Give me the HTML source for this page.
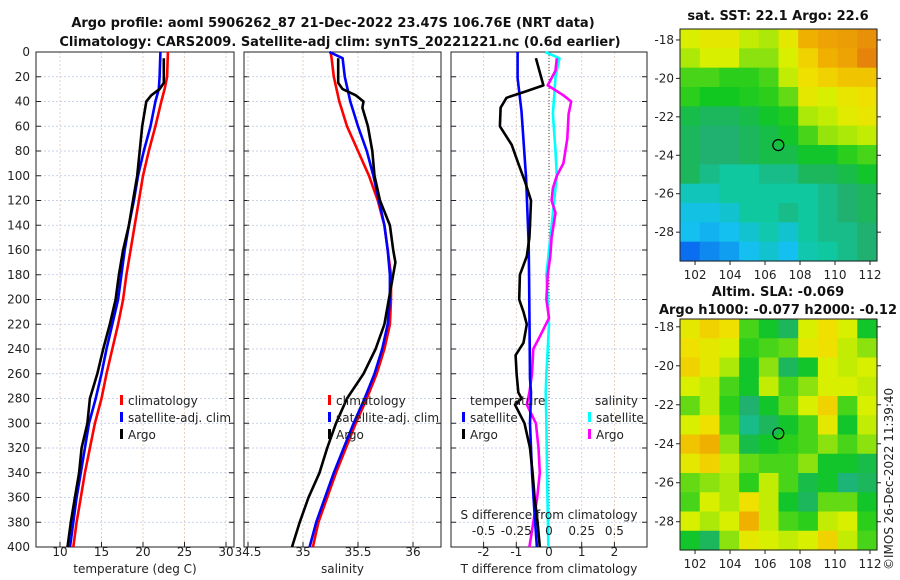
<!DOCTYPE html>
<html><head><meta charset="utf-8">
<style>
html,body{margin:0;padding:0;background:#fff;}
svg{display:block;font-family:"DejaVu Sans","Liberation Sans",sans-serif;}
.t{font-size:12px;fill:#222;}
.b{font-size:13px;font-weight:bold;fill:#111;}
</style></head>
<body>
<svg id="fig" width="900" height="580" viewBox="0 0 900 580">
<text class="b" x="333" y="27" text-anchor="middle">Argo profile: aoml 5906262_87 21-Dec-2022 23.47S 106.76E (NRT data)</text>
<text class="b" x="340" y="46" text-anchor="middle">Climatology: CARS2009. Satellite-adj clim: synTS_20221221.nc (0.6d earlier)</text>
<text class="b" x="778" y="20" text-anchor="middle">sat. SST: 22.1 Argo: 22.6</text>
<text class="b" x="778" y="296" text-anchor="middle">Altim. SLA: -0.069</text>
<text class="b" x="778" y="314" text-anchor="middle">Argo h1000: -0.077 h2000: -0.12</text>
<text class="t" transform="translate(893,570) rotate(-90)">©IMOS 26-Dec-2022 11:39:40</text>
<g id="g"></g>
</svg>
<script>
// ---------- data ----------
const depthTicks = [0,20,40,60,80,100,120,140,160,180,200,220,240,260,280,300,320,340,360,380,400];
const tempTicks = [10,15,20,25,30];
const salTicks = [34.5,35,35.5,36];
const tdiffTicks = [-2,-1,0,1,2];
const sdiffTicks = [-0.5,-0.25,0,0.25,0.5];
const sdiffTickLabels = ["-0.5","-0.25","0","0.25","0.5"];

const climDepth = [0,20,30,40,60,80,100,120,140,160,180,200,220,240,260,280,300,320,340,360,380,400];
const climTemp = [23.0,22.9,22.6,22.2,21.5,20.7,20.0,19.5,19.0,18.5,18.0,17.6,17.0,16.3,15.6,15.0,14.2,13.6,13.0,12.5,12.0,11.6];
const satTemp  = [22.1,22.0,21.9,21.5,20.9,20.1,19.4,18.9,18.3,17.8,17.4,17.0,16.3,15.6,15.0,14.3,13.5,13.0,12.5,12.0,11.6,11.2];
const argoDepth = [5,25,30,35,40,60,80,100,120,140,160,180,200,220,240,260,280,300,320,340,360,380,400];
const argoTemp = [22.5,22.5,22.0,21.0,20.4,19.9,19.6,19.3,18.8,18.3,17.6,17.1,16.7,16.0,15.2,14.5,13.6,13.3,12.6,12.3,11.8,11.3,10.9];

const salDepth = [0,5,20,40,60,80,100,120,140,160,180,200,220,240,260,280,300,320,340,360,380,400];
const climSal = [35.25,35.26,35.28,35.33,35.40,35.50,35.60,35.68,35.74,35.77,35.80,35.80,35.79,35.74,35.67,35.58,35.48,35.39,35.30,35.22,35.14,35.09];
const satSal  = [35.24,35.36,35.38,35.43,35.50,35.58,35.64,35.69,35.74,35.77,35.79,35.79,35.77,35.72,35.65,35.56,35.46,35.37,35.28,35.20,35.12,35.06];
const argoSalDepth = [5,25,30,35,40,45,60,80,100,120,140,160,170,180,200,220,240,260,280,300,320,340,360,380,400];
const argoSal = [35.32,35.32,35.36,35.48,35.55,35.54,35.59,35.63,35.65,35.70,35.79,35.82,35.84,35.82,35.78,35.74,35.66,35.55,35.40,35.30,35.22,35.15,35.05,34.97,34.90];

const satTdiffDepth = [0,21,48,75,102,129,156,183,210,237,264,275,300,340,370,400];
const satTdiff = [-0.96,-0.96,-0.84,-0.77,-0.70,-0.66,-0.62,-0.61,-0.60,-0.59,-0.58,-0.55,-0.58,-0.52,-0.45,-0.37];
const argoTdiffDepth = [5,27,32,37,45,60,75,90,105,120,140,150,165,180,200,210,220,235,245,260,275,280,285,300,320,340,360,380,400];
const argoTdiff = [-0.40,-0.17,-0.73,-1.30,-1.48,-1.50,-1.14,-0.94,-0.73,-0.55,-0.58,-0.60,-0.68,-0.89,-0.91,-0.78,-0.68,-0.78,-1.02,-0.99,-0.94,-0.84,-1.04,-0.75,-0.58,-0.50,-0.44,-0.35,-0.28];
const satSdiffDepth = [0,5,20,50,80,100,120,140,160,180,200,220,240,260,275,300,340,370,400];
const satSdiff = [-0.03,0.08,0.05,0.03,0.05,0.06,0.04,0.02,0.00,-0.02,-0.01,0.00,-0.01,-0.02,-0.025,-0.02,-0.015,-0.01,-0.005];
const argoSdiffDepth = [5,15,27,35,40,50,70,90,100,110,120,130,150,165,180,200,215,230,240,260,275,285,300,320,340,360,380,400];
const argoSdiff = [0.06,0.05,-0.01,0.11,0.17,0.15,0.14,0.11,0.06,0.03,0.02,0.05,0.02,0.01,-0.01,-0.02,0.00,-0.07,-0.12,-0.13,-0.15,-0.17,-0.10,-0.08,-0.07,-0.09,-0.12,-0.15];

const sstGrid = [
[.72,.75,.75,.70,.68,.75,.85,.87,.88,.90],
[.68,.72,.72,.65,.65,.72,.80,.85,.87,.92],
[.60,.60,.58,.58,.60,.70,.78,.80,.82,.82],
[.58,.56,.56,.57,.58,.62,.75,.72,.76,.78],
[.52,.50,.50,.52,.55,.57,.68,.70,.74,.76],
[.50,.48,.48,.50,.52,.55,.60,.66,.68,.70],
[.50,.48,.48,.50,.52,.52,.55,.55,.58,.60],
[.50,.45,.42,.42,.45,.45,.50,.50,.52,.55],
[.38,.38,.42,.42,.42,.42,.42,.45,.48,.50],
[.32,.32,.35,.42,.42,.45,.42,.45,.48,.50],
[.30,.28,.30,.35,.40,.35,.42,.45,.45,.48],
[.18,.22,.25,.30,.35,.30,.40,.42,.45,.48]];
const slaGrid = [
[.75,.80,.78,.60,.55,.50,.72,.78,.72,.55],
[.78,.75,.72,.58,.60,.62,.75,.78,.70,.65],
[.80,.75,.68,.55,.65,.50,.55,.72,.70,.72],
[.72,.70,.60,.55,.70,.60,.65,.72,.72,.70],
[.62,.70,.58,.48,.55,.62,.72,.80,.60,.72],
[.72,.78,.60,.45,.50,.55,.60,.75,.55,.70],
[.82,.85,.65,.52,.55,.58,.60,.65,.60,.65],
[.75,.80,.70,.62,.60,.60,.65,.55,.55,.52],
[.62,.65,.68,.58,.70,.60,.52,.55,.47,.50],
[.60,.72,.68,.78,.70,.55,.50,.62,.62,.55],
[.72,.68,.72,.85,.70,.60,.58,.70,.72,.58],
[.55,.50,.65,.75,.72,.70,.72,.80,.70,.60]];
const lonTicks = [102,104,106,108,110,112];
const latTicks = [-18,-20,-22,-24,-26,-28];
const argoLon = 106.76, argoLat = -23.47;

// ---------- helpers ----------
const NS="http://www.w3.org/2000/svg";
const G=document.getElementById('g');
function mk(tag,attrs){const e=document.createElementNS(NS,tag);for(const k in attrs)e.setAttribute(k,attrs[k]);G.appendChild(e);return e;}
function txt(x,y,s,anchor,cls){const e=mk('text',{x:x,y:y,'text-anchor':anchor||'middle','class':cls||'t'});e.textContent=s;return e;}

const PT=52,PB=547;
const yD=d=>PT+(d/400)*(PB-PT);
const panels=[
 {x0:36,x1:234,vmin:10-24/8.3,vmax:10+(234-60)/8.3,ticks:tempTicks,lab:"temperature (deg C)",name:"temperature-panel"},
 {x0:244,x1:441,vmin:34.5-4/110,vmax:34.5+(441-248)/110,ticks:salTicks,lab:"salinity",name:"salinity-panel"},
 {x0:451,x1:647,vmin:-98/32.7,vmax:98/32.7,ticks:tdiffTicks,lab:"T difference from climatology",name:"difference-panel"}
];
panels.forEach(p=>{p.sx=v=>p.x0+(v-p.vmin)/(p.vmax-p.vmin)*(p.x1-p.x0);});
const sxS=v=>549+v*130.8;

panels.forEach((p,pi)=>{
  depthTicks.forEach(d=>{
    const l=mk('line',{x1:p.x0,x2:p.x1,y1:yD(d),y2:yD(d),stroke:'#b8c4e8','stroke-width':0.8,'stroke-dasharray':'2,2'});
    
    
    const t1=mk('line',{x1:p.x0,x2:p.x0+5,y1:yD(d),y2:yD(d),stroke:'#222'});
    
    
    const t2=mk('line',{x1:p.x1-5,x2:p.x1,y1:yD(d),y2:yD(d),stroke:'#222'});
    
    
  });
  p.ticks.forEach((v,i)=>{
    const x=p.sx(v);
    const l=mk('line',{x1:x,x2:x,y1:PT,y2:PB,stroke:'#e0c8b8','stroke-width':0.8,'stroke-dasharray':'2,2'});
    
    
    const tk=mk('line',{x1:x,x2:x,y1:PB-5,y2:PB,stroke:'#222'});
    
    
    const tl=txt(x,PB+9,String(v));
    
    
  });
  const al=txt((p.x0+p.x1)/2,573,p.lab);
  
  
  const r=mk('rect',{x:p.x0,y:PT,width:p.x1-p.x0,height:PB-PT,fill:'none',stroke:'#222','stroke-width':1});
  
  
});
depthTicks.forEach(d=>{
  const t=txt(30,yD(d)+4,String(d),'end');
  
  
});
// zero line diff panel
const z=mk('line',{x1:549,x2:549,y1:PT,y2:PB,stroke:'#444','stroke-dasharray':'1,2'});



function series(xs,ds,sx,color,name){
  const pts=xs.map((v,i)=>sx(v).toFixed(1)+','+yD(ds[i]).toFixed(1)).join(' ');
  const e=mk('polyline',{points:pts,fill:'none',stroke:color,'stroke-width':2.6,'stroke-linejoin':'round'});
  
  
}
const P=panels;
series(climTemp,climDepth,P[0].sx,'#ff0000','temp-climatology-line');
series(satTemp,climDepth,P[0].sx,'#0000ff','temp-satellite-line');
series(argoTemp,argoDepth,P[0].sx,'#000','temp-argo-line');
series(climSal,salDepth,P[1].sx,'#ff0000','sal-climatology-line');
series(satSal,salDepth,P[1].sx,'#0000ff','sal-satellite-line');
series(argoSal,argoSalDepth,P[1].sx,'#000','sal-argo-line');
series(satSdiff,satSdiffDepth,sxS,'#00ffff','sdiff-satellite-line');
series(argoSdiff,argoSdiffDepth,sxS,'#ff00ff','sdiff-argo-line');
series(satTdiff,satTdiffDepth,P[2].sx,'#0000ff','tdiff-satellite-line');
series(argoTdiff,argoTdiffDepth,P[2].sx,'#000','tdiff-argo-line');

// S diff labels inside panel
const sdt=txt(549,519,'S difference from climatology');


sdiffTicks.forEach((v,i)=>{
  const t=txt(sxS(v),535,sdiffTickLabels[i]);
  
  
});

// legends
function legend(x,y,color,label){
  const b=mk('rect',{x:x,y:y-10,width:3,height:10,fill:color});
  
  
  const t=txt(x+8,y,label,'start');
  
  
}
legend(120,405,'#ff0000','climatology');legend(120,422,'#0000ff','satellite-adj. clim');legend(120,439,'#000','Argo');
legend(328,405,'#ff0000','climatology');legend(328,422,'#0000ff','satellite-adj. clim');legend(328,439,'#000','Argo');
const lt1=txt(470,405,'temperature','start');


const lt2=txt(595,405,'salinity','start');


legend(462,422,'#0000ff','satellite');legend(462,439,'#000','Argo');
legend(588,422,'#00ffff','satellite');legend(588,439,'#ff00ff','Argo');

// colormap
const stops=[[0,[0,24,168]],[.18,[10,110,240]],[.3,[20,192,240]],[.42,[16,200,160]],[.48,[32,176,112]],[.56,[16,200,32]],[.64,[128,224,16]],[.72,[216,240,0]],[.78,[240,224,0]],[.85,[240,176,0]],[.95,[224,112,16]],[1,[200,80,10]]];
function cmap(v){for(let i=1;i<stops.length;i++){if(v<=stops[i][0]){const a=stops[i-1],b=stops[i],t=(v-a[0])/(b[0]-a[0]);return 'rgb('+a[1].map((c,k)=>Math.round(c+(b[1][k]-c)*t)).join(',')+')';}}return 'rgb(200,80,10)';}

function map(grid,mx0,mx1,my0,my1,lon0,lon1,lat0,lat1,name){
  const sx=l=>mx0+(l-lon0)/(lon1-lon0)*(mx1-mx0);
  const sy=l=>my0+(lat0-l)/(lat0-lat1)*(my1-my0);
  const nr=grid.length,nc=grid[0].length,cw=(mx1-mx0)/nc,ch=(my1-my0)/nr;
  grid.forEach((row,r)=>row.forEach((v,c)=>{
    const e=mk('rect',{x:(mx0+c*cw).toFixed(2),y:(my0+r*ch).toFixed(2),width:(cw+0.6).toFixed(2),height:(ch+0.6).toFixed(2),fill:cmap(v)});
    
    
  }));
  const fr=mk('rect',{x:mx0,y:my0,width:mx1-mx0,height:my1-my0,fill:'none',stroke:'#222'});
  
  
  lonTicks.forEach(l=>{
    const tk=mk('line',{x1:sx(l),x2:sx(l),y1:my1,y2:my1+4,stroke:'#222'});
    
    
    const t=txt(sx(l),my1+18,String(l));
    
    
  });
  latTicks.forEach(l=>{
    const tk=mk('line',{x1:mx0-4,x2:mx0,y1:sy(l),y2:sy(l),stroke:'#222'});
    
    
    const tk2=mk('line',{x1:mx1,x2:mx1+4,y1:sy(l),y2:sy(l),stroke:'#222'});
    
    
    const t=txt(mx0-6,sy(l)+4,String(l),'end');
    
    
  });
  const c=mk('circle',{cx:sx(argoLon),cy:sy(argoLat),r:5.5,fill:'none',stroke:'#000','stroke-width':1.2});
  
  
}
map(sstGrid,680,877,29,261,101.14,112.4,-17.43,-29.5,'sst-map');
map(slaGrid,680,877,319,550,101.14,112.4,-17.6,-29.45,'sla-map');
</script>
</body></html>
